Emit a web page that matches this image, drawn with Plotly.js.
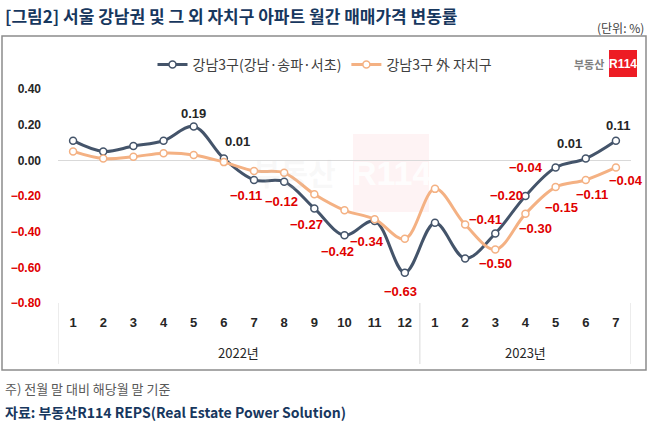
<!DOCTYPE html>
<html><head><meta charset="utf-8">
<script src="https://cdn.plot.ly/plotly-3.0.1.min.js"></script>
<style>html,body{margin:0;padding:0;background:#fff}#chart{width:650px;height:426px}</style>
</head><body><div id="chart"></div>
<script>
// ---- data ----
const years = ['2022년','2022년','2022년','2022년','2022년','2022년','2022년','2022년','2022년','2022년','2022년','2022년',
               '2023년','2023년','2023년','2023년','2023년','2023년','2023년'];
const months = ['1','2','3','4','5','6','7','8','9','10','11','12','1','2','3','4','5','6','7'];
const gangnam3 = [0.11, 0.05, 0.08, 0.11, 0.19, 0.01, -0.11, -0.12, -0.27, -0.42, -0.34, -0.63,
                  -0.35, -0.55, -0.41, -0.20, -0.04, 0.01, 0.11];
const others = [0.05, 0.01, 0.02, 0.04, 0.03, -0.01, -0.06, -0.07, -0.19, -0.28, -0.33, -0.44,
                -0.16, -0.36, -0.50, -0.30, -0.15, -0.11, -0.04];
const seriesNames = ['강남3구(강남·송파·서초)', '강남3구 外 자치구'];
const yTickVals = [0.4, 0.2, 0, -0.2, -0.4, -0.6, -0.8];
const yTickLabels = ['0.40','0.20','0.00','−0.20','−0.40','−0.60','−0.80'];

// ---- label placement (pixel offsets of value labels from their points; style only) ----
const gangnamLabelOffsets = {4:[0,-13], 5:[14,-17], 6:[-8,16], 7:[-3,20], 8:[-8,16], 9:[-7,16], 10:[-8,21],
  11:[-4,19], 14:[-10,-14], 15:[-19,-1], 16:[-30,0], 17:[-16,-15], 18:[3,-15]};
const othersLabelOffsets = {14:[0,14], 15:[10,15], 16:[6,20], 17:[6,15], 18:[10,13]};

// ---- styling ----
const DARK = '#44546a', ORANGE = '#f4b183', RED = '#e00000', INK = '#262626';
const NUMFONT = 'Liberation Sans, Arial, sans-serif';
const KFONT = 'Noto Sans CJK KR, sans-serif';

const fmt = v => (v < 0 ? '−' : '') + Math.abs(v).toFixed(2);
const xIdx = months.map((_, i) => i);

function lineTrace(y, name, color) {
  return {x:xIdx, y, name, type:'scatter', mode:'lines+markers',
    line:{color, width:3, shape:'spline', smoothing:1},
    marker:{symbol:'circle', size:7, color:'#ffffff', line:{color, width:1.5}},
    hoverinfo:'skip'};
}
const traces = [lineTrace(gangnam3, seriesNames[0], DARK), lineTrace(others, seriesNames[1], ORANGE)];

function valueLabels(vals, offsets) {
  return Object.keys(offsets).map(k => {
    const i = +k, v = vals[i];
    return {xref:'x', yref:'y', x:xIdx[i], y:v, text:fmt(v), showarrow:false,
      xanchor:'center', yanchor:'middle', xshift:offsets[k][0], yshift:-offsets[k][1],
      font:{family:NUMFONT, size:13, weight:'bold', color:v < 0 ? RED : INK}};
  });
}

// pixel -> paper helpers (plot area: 58..631 x, 89..303 y)
const L = 58, R = 631, T = 89, B = 303;
const px = v => (v - L) / (R - L);
const py = v => (B - v) / (B - T);

// year groups (from the years array)
const groups = [];
years.forEach((yr, i) => {
  if (!groups.length || groups[groups.length - 1].name !== yr) groups.push({name:yr, first:i, last:i});
  else groups[groups.length - 1].last = i;
});
const dividerPos = [groups[0].first - 0.5].concat(groups.map(g => g.last + 0.5));

const tickText = yTickLabels.map((t, i) => yTickVals[i] < 0
  ? '<span style="color:' + RED + '">' + t + '</span>' : t);

const shapes = [
  {type:'rect', xref:'paper', yref:'paper', x0:px(2), x1:px(646), y0:py(370), y1:py(36),
   line:{color:'#8c8c8c', width:1.5}, fillcolor:'rgba(0,0,0,0)', layer:'below'},
  {type:'rect', xref:'paper', yref:'paper', x0:px(353), x1:px(429), y0:py(212), y1:py(134),
   line:{width:0}, fillcolor:'rgba(237,28,36,0.05)', layer:'below'},
  {type:'rect', xref:'paper', yref:'paper', x0:px(609), x1:px(637), y0:py(77), y1:py(50),
   line:{width:0}, fillcolor:'#ed1c24'}
].concat(dividerPos.map(d => ({type:'line', xref:'x', yref:'paper', x0:d, x1:d, y0:py(303), y1:py(364),
   line:{color:'#d9d9d9', width:1}})));

const annotations = [
  {text:'(단위: %)', xref:'paper', yref:'paper', x:px(646), y:py(28), xanchor:'right', yanchor:'middle',
   showarrow:false, font:{family:KFONT, size:12, color:'#404040'}},
  {text:'부동산', xref:'paper', yref:'paper', x:px(606), y:py(63.5), xanchor:'right', yanchor:'middle',
   showarrow:false, font:{family:KFONT, size:11, weight:'bold', color:'#7f7f7f'}},
  {text:'R114', xref:'paper', yref:'paper', x:px(623), y:py(63.5), xanchor:'center', yanchor:'middle',
   showarrow:false, font:{family:NUMFONT, size:12, weight:'bold', color:'#ffffff'}},
  {text:'R114', xref:'paper', yref:'paper', x:px(391), y:py(173), xanchor:'center', yanchor:'middle',
   showarrow:false, font:{family:NUMFONT, size:34, weight:'bold', color:'rgba(255,255,255,0.9)'}},
  {text:'부동산', xref:'paper', yref:'paper', x:px(294), y:py(172), xanchor:'center', yanchor:'middle',
   showarrow:false, font:{family:KFONT, size:30, weight:'bold', color:'rgba(200,200,200,0.12)'}},
  {text:'주) 전월 말 대비 해당월 말 기준', xref:'paper', yref:'paper', x:px(3), y:py(388), xanchor:'left', yanchor:'middle',
   showarrow:false, font:{family:KFONT, size:13, color:'#595959'}},
  {text:'자료: 부동산R114 REPS(Real Estate Power Solution)', xref:'paper', yref:'paper', x:px(3), y:py(412),
   xanchor:'left', yanchor:'middle', showarrow:false, font:{family:KFONT, size:14, weight:'bold', color:'#17375e'}}
].concat(groups.map(g => ({text:g.name, xref:'x', yref:'paper', x:(g.first + g.last) / 2, y:py(352),
   xanchor:'center', yanchor:'middle', showarrow:false, font:{family:KFONT, size:13, color:INK}})))
 .concat(valueLabels(gangnam3, gangnamLabelOffsets))
 .concat(valueLabels(others, othersLabelOffsets));

const layout = {
  width:650, height:426,
  margin:{l:L, r:650-R, t:T, b:426-B, pad:0, autoexpand:false},
  paper_bgcolor:'#ffffff', plot_bgcolor:'#ffffff',
  showlegend:true,
  title:{text:'[그림2] 서울 강남권 및 그 외 자치구 아파트 월간 매매가격 변동률',
    font:{family:KFONT, size:17, weight:'bold', color:'#17375e'},
    x:5/650, xanchor:'left', xref:'container', y:1-17/426, yanchor:'middle', yref:'container'},
  legend:{orientation:'h', xref:'container', yref:'container', x:0.5, xanchor:'center',
    y:1-65/426, yanchor:'middle', font:{family:KFONT, size:14, color:'#404040'},
    bgcolor:'rgba(0,0,0,0)', traceorder:'normal'},
  xaxis:{type:'linear', range:[-0.5, months.length - 0.5], tickvals:xIdx, ticktext:months,
    showgrid:false, showline:false, zeroline:false, ticks:'', ticklabelstandoff:10,
    tickfont:{family:NUMFONT, size:13, weight:'bold', color:INK}},
  yaxis:{range:[-0.8, 0.4], tickvals:yTickVals, ticktext:tickText, showgrid:false,
    zeroline:true, zerolinecolor:'#d9d9d9', zerolinewidth:1, showline:false, ticks:'',
    ticklabelstandoff:16, tickfont:{family:NUMFONT, size:12, weight:'bold', color:INK}},
  shapes, annotations
};

Plotly.newPlot('chart', traces, layout, {staticPlot:true, displayModeBar:false});
</script>
</body></html>
